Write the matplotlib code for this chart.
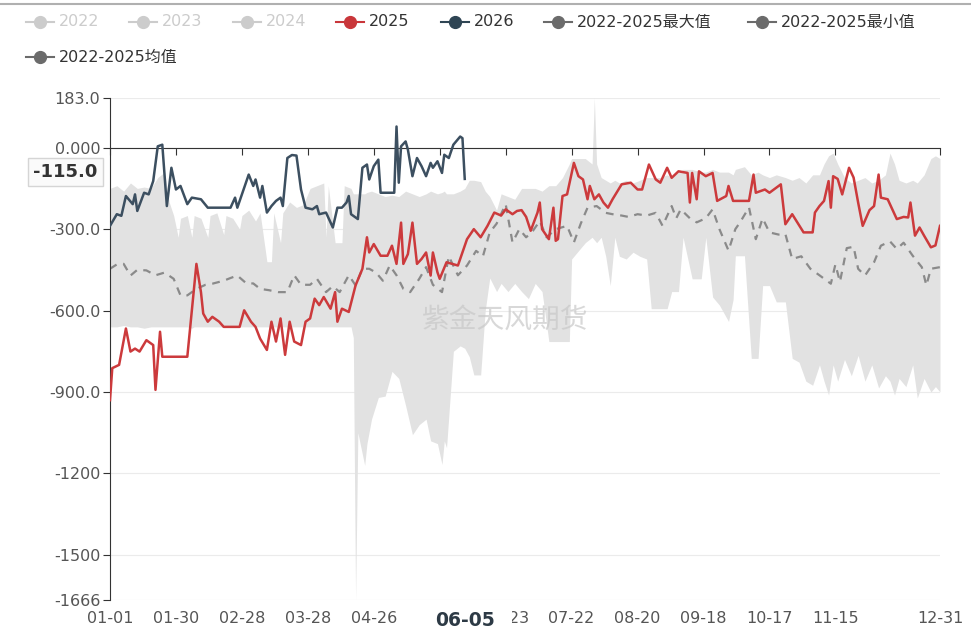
import matplotlib.pyplot as plt
import matplotlib.transforms as mtransforms
from matplotlib.lines import Line2D
from matplotlib.patches import Rectangle
import pandas as pd

plt.rcParams['font.family'] = ['DejaVu Sans', 'Noto Sans CJK SC']

# category axis: every day of a leap year, labelled MM-DD
dates = pd.date_range('2024-01-01', '2024-12-31').strftime('%m-%d').tolist()
tick_days = [0, 29, 58, 87, 116, 145, 174, 203, 232, 261, 290, 319, 365]

y_ticks = [183, 0, -300, -600, -900, -1200, -1500, -1666]
y_labels = ['183.0', '0.000', '-300.0', '-600.0', '-900.0', '-1200', '-1500', '-1666']

legend_names = ['2022', '2023', '2024', '2025', '2026',
                '2022-2025最大值', '2022-2025最小值', '2022-2025均值']
legend_colors = ['#cccccc', '#cccccc', '#cccccc', '#c9363a', '#2f4554',
                 '#6b6b6b', '#6b6b6b', '#6b6b6b']
legend_active = [False, False, False, True, True, True, True, True]

# 2025
red_day = [0, 1, 4, 7, 9, 11, 13, 16, 19, 20, 22, 23, 34, 38, 40, 41, 43, 45, 48, 50,
           57, 59, 62, 64, 66, 69, 71, 73, 75, 77, 79, 81, 84, 86, 88, 90, 92, 94, 97, 99,
           100, 102, 105, 108, 111, 113, 114, 116, 119, 122, 124, 126, 128, 129, 131, 133, 135, 137, 139, 141,
           142, 144, 145, 148, 153, 157, 160, 163, 166, 169, 172, 174, 177, 179, 181, 183, 185, 188, 189, 190,
           193, 195, 196, 197, 199, 201, 204, 206, 208, 210, 211, 213, 215, 217, 219, 221, 225, 229, 232, 234,
           237, 240, 242, 245, 247, 250, 254, 255, 256, 258, 259, 262, 265, 267, 271, 272, 274, 281, 283, 284,
           288, 290, 295, 297, 300, 305, 309, 310, 312, 314, 316, 317, 318, 320, 322, 325, 327, 329, 331, 334,
           336, 338, 339, 342, 346, 349, 351, 352, 354, 356, 358, 361, 363, 365]
red_val = [-930, -812, -800, -666, -751, -740, -751, -709, -727, -892, -678, -770, -770, -428, -532, -611, -641, -623, -641, -660,
           -660, -599, -641, -660, -703, -745, -641, -714, -629, -763, -641, -714, -727, -641, -629, -556, -580, -550, -593, -532,
           -641, -593, -605, -507, -446, -330, -386, -355, -398, -398, -361, -428, -276, -428, -392, -276, -428, -410, -386, -471,
           -386, -459, -483, -422, -434, -337, -300, -330, -288, -239, -250, -227, -245, -233, -230, -255, -306, -239, -202, -300,
           -337, -221, -343, -337, -178, -172, -56, -105, -117, -190, -141, -190, -172, -202, -221, -190, -135, -129, -154, -154,
           -62, -117, -129, -74, -111, -87, -93, -202, -93, -190, -87, -105, -93, -196, -178, -141, -196, -196, -99, -166,
           -154, -166, -135, -282, -245, -312, -312, -239, -215, -196, -123, -221, -105, -115, -172, -74, -110, -202, -288, -230,
           -215, -99, -184, -190, -263, -255, -257, -202, -324, -294, -324, -367, -360, -288]

# 2026
y26_day = [0, 3, 5, 7, 10, 11, 12, 15, 17, 19, 21, 23, 25, 27, 29, 31, 34, 36, 40, 43,
           53, 55, 56, 61, 63, 64, 66, 67, 69, 71, 73, 75, 76, 78, 80, 82, 84, 86, 89, 91,
           92, 95, 98, 100, 102, 104, 105, 106, 109, 111, 113, 114, 116, 118, 119, 125, 126, 127, 128, 130,
           131, 133, 135, 137, 139, 141, 142, 144, 146, 147, 149, 151, 154, 155, 156]
y26_val = [-288, -245, -251, -178, -208, -172, -233, -166, -172, -123, 5, 11, -215, -74, -154, -141, -208, -184, -190, -221,
           -221, -184, -221, -99, -141, -117, -184, -141, -239, -215, -196, -184, -215, -38, -27, -29, -154, -221, -227, -215,
           -245, -239, -294, -221, -221, -202, -178, -245, -263, -74, -62, -117, -68, -44, -166, -166, 78, -129, 5, 23,
           -7, -105, -38, -68, -105, -56, -74, -50, -93, -26, -38, 11, 41, 35, -115]

# 2022-2025 mean
mean_day = [0, 3, 6, 9, 12, 16, 20, 24, 28, 31, 34, 38, 42, 45, 50, 53, 56, 60, 63, 66,
            70, 74, 78, 81, 84, 88, 91, 95, 98, 101, 105, 108, 111, 114, 117, 120, 123, 126, 129, 132,
            136, 139, 142, 146, 149, 153, 157, 161, 164, 167, 170, 174, 177, 180, 183, 186, 189, 192, 196, 201,
            204, 207, 210, 214, 218, 221, 225, 228, 232, 236, 240, 243, 247, 249, 251, 255, 258, 262, 265, 268,
            272, 275, 277, 281, 284, 287, 290, 294, 297, 300, 304, 308, 312, 317, 319, 321, 324, 327, 329, 332,
            336, 339, 343, 346, 349, 353, 357, 359, 361, 365]
mean_val = [-446, -430, -428, -471, -450, -452, -470, -460, -483, -544, -544, -520, -505, -501, -490, -480, -471, -500, -500, -520,
            -525, -532, -532, -470, -505, -505, -483, -532, -510, -532, -470, -507, -446, -446, -460, -490, -434, -470, -520, -532,
            -483, -440, -505, -532, -400, -470, -434, -380, -400, -312, -280, -208, -349, -300, -330, -306, -270, -330, -300, -288,
            -349, -280, -221, -215, -240, -245, -250, -255, -245, -250, -240, -288, -215, -260, -227, -260, -275, -260, -227, -300,
            -379, -300, -276, -220, -337, -260, -312, -320, -318, -410, -400, -446, -470, -501, -430, -494, -370, -365, -446, -471,
            -422, -361, -345, -373, -350, -398, -440, -507, -446, -440]

# 2022-2025 max / min band
band_day = [0, 3, 6, 9, 12, 15, 18, 21, 24, 26, 28, 30, 31, 34, 36, 37, 40, 43, 44, 47,
            50, 51, 54, 57, 58, 61, 64, 66, 69, 71, 72, 75, 76, 79, 82, 85, 88, 91, 94, 95,
            96, 99, 102, 103, 106, 107, 108, 109, 112, 113, 115, 118, 121, 124, 127, 130, 133, 136, 139, 141,
            144, 146, 147, 148, 151, 154, 156, 158, 160, 163, 165, 167, 170, 172, 175, 178, 181, 184, 187, 190,
            193, 196, 199, 202, 203, 206, 209, 212, 213, 214, 216, 218, 220, 222, 224, 227, 230, 233, 236, 238,
            242, 245, 247, 250, 252, 256, 260, 262, 265, 268, 272, 274, 275, 279, 282, 285, 287, 290, 293, 297,
            300, 303, 306, 309, 312, 314, 316, 318, 320, 323, 326, 329, 332, 335, 338, 341, 343, 345, 347, 350,
            353, 355, 358, 361, 363, 365]
band_max = [-150, -140, -160, -130, -150, -145, -150, -110, -90, -200, -250, -330, -260, -250, -330, -250, -260, -330, -250, -240,
            -320, -250, -260, -300, -250, -230, -270, -240, -420, -420, -240, -350, -240, -200, -220, -210, -150, -140, -130, -330,
            -140, -350, -350, -140, -150, -170, -170, -170, -170, -165, -160, -170, -180, -175, -180, -160, -170, -180, -170, -160,
            -170, -165, -160, -170, -170, -160, -150, -120, -120, -125, -160, -180, -230, -170, -180, -190, -150, -150, -150, -160,
            -140, -140, -110, -60, -40, -40, -40, -60, 183, -60, -110, -120, -130, -120, -130, -120, -130, -120, -110, -110,
            -110, -100, -110, -90, -80, -80, -90, -90, -80, -90, -90, -100, -80, -70, -100, -90, -100, -110, -100, -110,
            -120, -110, -130, -100, -100, -60, -30, -20, -60, -110, -130, -120, -110, -130, -120, -100, -20, -60, -120, -130,
            -120, -130, -100, -40, -30, -40]
band_min = [-660, -660, -655, -660, -660, -665, -660, -660, -660, -660, -660, -660, -660, -660, -665, -660, -660, -660, -660, -660,
            -660, -660, -660, -660, -660, -660, -660, -660, -660, -660, -660, -660, -660, -660, -660, -660, -660, -660, -660, -660,
            -660, -660, -660, -660, -660, -700, -1666, -1050, -1170, -1090, -1000, -920, -915, -824, -850, -950, -1057, -1020, -1000, -1080,
            -1090, -1167, -1080, -1105, -750, -730, -739, -770, -837, -837, -600, -480, -530, -500, -530, -500, -530, -556, -500, -530,
            -714, -714, -714, -714, -410, -380, -350, -330, -340, -350, -330, -400, -508, -330, -400, -410, -385, -400, -410, -593,
            -593, -593, -530, -530, -330, -483, -483, -330, -550, -580, -640, -560, -398, -398, -776, -776, -508, -508, -568, -568,
            -776, -790, -860, -875, -800, -860, -911, -800, -860, -780, -840, -765, -860, -800, -885, -840, -860, -911, -850, -880,
            -800, -922, -850, -900, -880, -900]

pointer_day = 156
pointer_val = -115.0

W, H = 971, 631
fig = plt.figure(figsize=(W / 100, H / 100), dpi=100)
ax = fig.add_axes([110 / W, 31 / H, 830 / W, 502 / H])
ax.set_xlim(0, 365)
ax.set_ylim(-1666, 183)

ax.fill_between(band_day, band_min, band_max, color='#e2e2e2', lw=0, zorder=1)
ax.plot(mean_day, mean_val, color='#8a8a8a', lw=1.6, dashes=(3.5, 3), zorder=2)
ax.plot(red_day, red_val, color='#cc3a3c', lw=1.8, zorder=3)
ax.plot(y26_day, y26_val, color='#3c4f60', lw=1.8, zorder=4)

# watermark
ax.text(0.476, 0.558, '紫金天风期货', transform=ax.transAxes, ha='center', va='center',
        fontsize=20, color='#c8c8c8', alpha=0.7, zorder=2.5, family='Noto Sans CJK SC')

# y axis
for s in ['top', 'right']:
    ax.spines[s].set_visible(False)
ax.spines['left'].set_color('#333333')
ax.set_yticks(y_ticks)
ax.set_yticklabels(y_labels)
ax.tick_params(axis='y', length=5, color='#333333', labelsize=11.5, labelcolor='#555555', pad=2)
ax.grid(axis='y', color='#ebebeb', lw=0.8)
ax.set_axisbelow(True)

# x axis line sits on zero, labels at the bottom
ax.spines['bottom'].set_position(('data', 0))
ax.spines['bottom'].set_color('#333333')
ax.set_xticks(tick_days)
ax.tick_params(axis='x', length=5, color='#333333', labelbottom=False)
sec = ax.secondary_xaxis('bottom')
sec.set_xticks(tick_days, labels=[dates[d] for d in tick_days])
sec.tick_params(length=0, pad=8, labelsize=11.5, labelcolor='#555555')
sec.spines['bottom'].set_visible(False)

# axis pointer labels (x label sits on a white cover hiding the ticks under it)
fig.add_artist(Rectangle((413 / W, 0), 99 / W, 27 / H, transform=fig.transFigure,
                         fc='white', ec='none', zorder=5))
xblend = mtransforms.blended_transform_factory(ax.transData, fig.transFigure)
fig.text(pointer_day, 1 - 621 / H, dates[pointer_day], transform=xblend, ha='center',
         va='center', fontsize=13.5, weight='bold', color='#2d3a45', zorder=6)
ax.annotate('%.1f' % pointer_val, xy=(0, pointer_val), xycoords=('axes fraction', 'data'),
            xytext=(-9, 5), textcoords='offset points', ha='right', va='center', fontsize=13,
            weight='bold', color='#333333',
            bbox=dict(boxstyle='square,pad=0.3', fc='#fafafa', ec='#d5d5d5', lw=1),
            annotation_clip=False, zorder=10)

# legend drawn by hand (two rows like the original)
leg_x = [40, 143, 247, 350, 455, 558, 762, 40]
leg_y = [22, 22, 22, 22, 22, 22, 22, 57]
for name, c, on, x, y in zip(legend_names, legend_colors, legend_active, leg_x, leg_y):
    fy = 1 - y / H
    fig.add_artist(Line2D([(x - 14) / W, (x + 14) / W], [fy, fy], transform=fig.transFigure,
                          color=c, lw=1.5))
    fig.add_artist(Line2D([x / W], [fy], transform=fig.transFigure, marker='o', ms=8.5,
                          color=c, lw=0))
    fig.text((x + 19) / W, fy, name, ha='left', va='center', fontsize=11.5,
             color='#333333' if on else '#cccccc')

fig.add_artist(Line2D([0, 1], [1 - 4 / H, 1 - 4 / H], transform=fig.transFigure,
                      color='#b0b0b0', lw=1.5))

fig.savefig('out.png', dpi=100)
